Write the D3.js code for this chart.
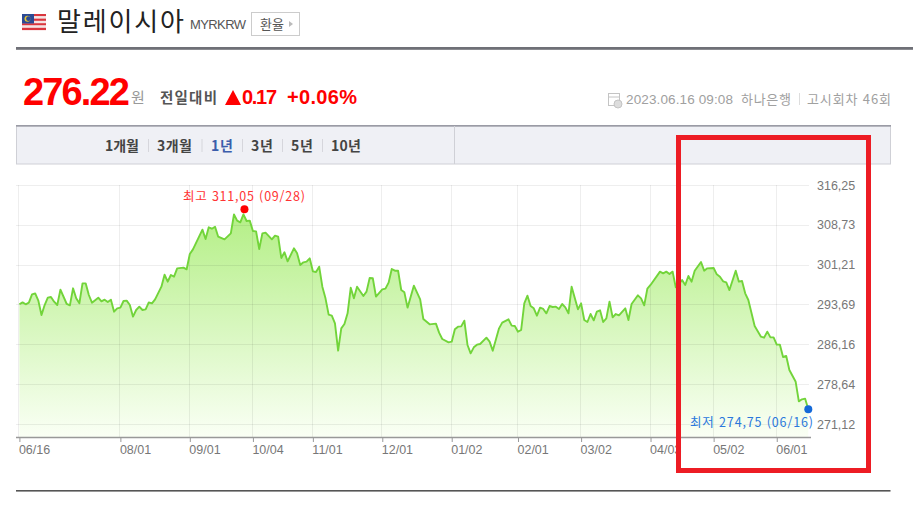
<!DOCTYPE html>
<html lang="ko"><head><meta charset="utf-8">
<script src="https://cdn.jsdelivr.net/npm/d3@7/dist/d3.min.js"></script>
<style>
html,body{margin:0;padding:0;background:#fff;overflow:hidden}
svg{display:block}
text{font-family:"Liberation Sans","Noto Sans CJK KR",sans-serif}
.kr{font-family:"Noto Sans CJK KR",sans-serif}
</style></head><body><svg id="c" width="913" height="527"></svg>
<script>
const sessions=[0,1,2,3,4,5,6,7,8,9,10,11,12,13,15,16,17,18,19,20,21,22,23,25,26,27,28,29,30,31,32,33,34,35,36,37,38,39,40,41,42,43,45,46,47,48,49,50,52,53,54,55,58,59,60,61,62,63,65,67,68,69,70,71,72,73,74,75,76,77,78,80,81,82,83,84,85,87,88,89,90,91,92,93,94,95,96,97,98,99,100,101,102,103,104,105,106,107,109,110,111,112,113,115,116,117,118,119,120,121,122,123,125,127,128,130,132,133,134,136,137,138,139,140,141,142,143,144,145,146,148,149,150,152,153,155,156,157,158,159,160,161,162,163,164,165,166,167,168,169,170,171,172,173,174,175,177,178,179,180,181,182,183,184,185,186,187,188,189,190,192,193,194,196,197,198,199,200,203,204,205,206,207,208,210,211,212,213,214,216,217,218,220,221,222,223,224,225,227,228,229,230,231,233,235,236,237,238,239,240,241,242,243,244,246,247,248,249,250];
const rates=[293.72,294.09,293.72,294.03,295.60,295.79,294.41,291.70,293.59,294.98,295.10,294.22,293.59,296.49,293.78,293.53,296.74,294.85,293.90,297.68,297.68,295.48,294.03,294.98,294.28,294.60,294.16,294.60,292.33,292.96,293.09,294.35,294.41,293.59,291.39,292.65,293.28,292.65,292.77,294.09,293.90,294.66,297.05,299.30,298.00,299.26,298.94,300.51,300.64,300.33,303.22,304.10,307.82,306.05,308.26,308.00,308.38,306.49,305.99,307.12,310.71,309.51,309.20,310.71,309.45,309.52,307.56,307.50,304.16,307.12,307.25,305.99,306.68,306.50,302.47,303.54,301.84,304.29,303.35,301.14,301.65,301.77,302.40,299.95,299.82,300.83,297.05,294.85,291.77,291.58,290.13,284.97,289.18,290.00,292.02,296.86,294.85,297.05,295.29,296.11,298.69,298.63,295.17,296.55,296.68,297.81,300.39,300.07,300.07,296.42,295.98,293.09,297.24,294.66,290.95,289.94,290.07,288.37,287.17,286.54,286.67,289.00,289.50,289.56,290.63,286.04,284.46,285.60,286.10,286.23,287.42,286.67,284.97,289.18,290.26,290.89,289.69,289.63,288.55,288.87,293.90,295.35,293.40,292.96,291.58,293.09,292.84,292.02,293.40,293.21,293.28,292.84,293.78,293.15,292.02,297.05,292.77,293.90,290.76,290.38,291.89,290.70,292.33,292.58,290.38,291.07,294.22,291.26,291.89,291.64,292.96,290.76,293.78,295.42,294.85,293.53,296.68,297.37,299.89,299.57,299.89,299.45,299.89,296.93,298.31,297.37,299.07,298.00,300.07,301.71,300.07,300.51,300.58,299.38,298.94,298.06,297.87,296.42,300.07,298.00,298.12,295.79,294.53,289.63,287.61,287.42,288.56,287.48,287.48,286.10,286.10,283.77,283.96,281.32,279.09,275.40,275.78,275.90,273.89];
const tickSessions=[0,32,54,74,93,115,137,158,178,200,220,240];
const tickLabels=["06/16","08/01","09/01","10/04","11/01","12/01","01/02","02/01","03/02","04/03","05/02","06/01"];
const rateTicks=[316.25,308.73,301.21,293.69,286.16,278.64,271.12];
const highPoint={session:71,rate:311.66};
const lowPoint={session:250,rate:273.89};
const highLabel="최고 311,05 (09/28)";
const lowLabel="최저 274,75 (06/16)";
const tabs=["1개월","3개월","1년","3년","5년","10년"];

const svg=d3.select("#c");
const x=d3.scaleLinear().domain([0,250]).range([19.4,808.3]);
const y=d3.scaleLinear().domain([271.12,316.25]).range([424,185]);
const bottom=437;
const points=sessions.map((s,i)=>({s,r:rates[i]}));

// header
const g0=svg.append("g");
const flag=g0.append("g").attr("transform","translate(22,14)");
d3.range(7).forEach(i=>flag.append("rect").attr("x",0).attr("y",i*2.3).attr("width",24).attr("height",2.3).attr("fill",i%2?"#f3e4e4":"#d9363e"));
flag.append("rect").attr("width",12).attr("height",9.5).attr("fill","#2b4a94");
flag.append("circle").attr("cx",5.5).attr("cy",4.7).attr("r",3).attr("fill","#e8c832");
flag.append("circle").attr("cx",6.5).attr("cy",4.7).attr("r",2.4).attr("fill","#2b4a94");
g0.append("text").attr("class","kr").attr("x",57).attr("y",31).attr("font-size",26).attr("fill","#222").attr("textLength",127).text("말레이시아");
g0.append("text").attr("x",190).attr("y",29).attr("font-size",13).attr("fill","#555").attr("textLength",56).text("MYRKRW");
g0.append("rect").attr("x",251.5).attr("y",12.5).attr("width",48).attr("height",23).attr("fill","#fff").attr("stroke","#ccc");
g0.append("text").attr("class","kr").attr("x",260).attr("y",29).attr("font-size",13).attr("fill","#555").text("환율");
g0.append("path").attr("d","M289 21l4 3-4 3z").attr("fill","#bbb");
g0.append("rect").attr("x",16).attr("y",47).attr("width",897).attr("height",2.8).attr("fill","#6f7077");

// price
g0.append("text").attr("x",23).attr("y",105).attr("font-size",38).attr("font-weight",700).attr("fill","#f00").attr("textLength",107).text("276.22");
g0.append("text").attr("class","kr").attr("x",131).attr("y",103).attr("font-size",15).attr("fill","#999").text("원");
g0.append("text").attr("class","kr").attr("x",160).attr("y",103).attr("font-size",14.5).attr("font-weight",700).attr("fill","#555").attr("textLength",57).text("전일대비");
g0.append("path").attr("d","M225 105l8-15 8 15z").attr("fill","#f00");
g0.append("text").attr("x",242).attr("y",104).attr("font-size",20).attr("font-weight",700).attr("fill","#f00").attr("textLength",35).text("0.17");
g0.append("text").attr("x",287).attr("y",104).attr("font-size",20).attr("font-weight",700).attr("fill","#f00").attr("textLength",70).text("+0.06%");
const ic=g0.append("g").attr("fill","none").attr("stroke","#c4c4c4");
ic.append("rect").attr("x",608.5).attr("y",93.5).attr("width",11).attr("height",12);
ic.append("path").attr("d","M608 97h12");
ic.append("circle").attr("cx",618).attr("cy",104).attr("r",4).attr("fill","#ddd");
g0.append("text").attr("x",626).attr("y",104).attr("font-size",13.5).attr("fill","#a0a0a0").attr("textLength",107).text("2023.06.16 09:08");
g0.append("text").attr("class","kr").attr("x",741).attr("y",104).attr("font-size",13).attr("fill","#a0a0a0").attr("textLength",50).text("하나은행");
g0.append("rect").attr("x",799).attr("y",93).attr("width",1).attr("height",12).attr("fill","#ddd");
g0.append("text").attr("class","kr").attr("x",807).attr("y",104).attr("font-size",13).attr("fill","#a0a0a0").attr("textLength",84).text("고시회차 46회");

// tab bar
g0.append("rect").attr("x",16.5).attr("y",126).attr("width",874).attr("height",38).attr("fill","#eff0f5").attr("stroke","#cfd0d6");
g0.append("rect").attr("x",16).attr("y",125).attr("width",875).attr("height",1.6).attr("fill","#9a9ba5");
g0.append("rect").attr("x",454).attr("y",126).attr("width",1).attr("height",38).attr("fill","#cfd0d6");
const tabX=[105,157,211,251,291,331], tabW=[34,35,22,22,22,30];
tabs.forEach((t,i)=>{
  g0.append("text").attr("class","kr").attr("x",tabX[i]).attr("y",151).attr("font-size",14).attr("font-weight",700)
    .attr("fill",i===2?"#3b5dab":"#444").attr("textLength",tabW[i]).text(t);
  if(i<5) g0.append("rect").attr("x",tabX[i]+tabW[i]+(tabX[i+1]-tabX[i]-tabW[i])/2).attr("y",139).attr("width",1).attr("height",13).attr("fill","#d6d6dc");
});

// chart
const defs=svg.append("defs");
const grad=defs.append("linearGradient").attr("id","fill").attr("gradientUnits","userSpaceOnUse")
  .attr("x1",0).attr("x2",0).attr("y1",214).attr("y2",bottom);
grad.append("stop").attr("offset",0).attr("stop-color","#b4ef86");
grad.append("stop").attr("offset",1).attr("stop-color","#fafff5");

const area=d3.area().x(d=>x(d.s)).y0(bottom).y1(d=>y(d.r));
const line=d3.line().x(d=>x(d.s)).y(d=>y(d.r));
svg.append("path").datum(points).attr("d",area).attr("fill","url(#fill)");

const grid=svg.append("g").attr("stroke","#000").attr("stroke-opacity",0.065).attr("shape-rendering","crispEdges");
grid.selectAll("line.h").data(rateTicks).join("line").attr("class","h")
  .attr("x1",16).attr("x2",809).attr("y1",d=>Math.round(y(d))+.5).attr("y2",d=>Math.round(y(d))+.5);
grid.selectAll("line.v").data(tickSessions).join("line").attr("class","v")
  .attr("y1",185).attr("y2",bottom).attr("x1",d=>Math.round(x(d))-.5).attr("x2",d=>Math.round(x(d))-.5);

svg.append("path").datum(points).attr("d",line).attr("fill","none").attr("stroke","#72d43a").attr("stroke-width",1.9).attr("stroke-linejoin","round");

const xAxis=svg.append("g").attr("transform",`translate(0,${bottom})`)
  .call(d3.axisBottom(x).tickValues(tickSessions).tickFormat((d,i)=>tickLabels[i]).tickSize(5).tickSizeOuter(0));
xAxis.select(".domain").attr("d","M16,0.5H811").attr("stroke","#999").attr("stroke-width",1.5);
xAxis.selectAll(".tick line").attr("stroke","#999");
xAxis.selectAll(".tick text").attr("text-anchor","start").attr("x",-1).attr("y",8).attr("font-size",12.5).attr("fill","#777").attr("font-family","Liberation Sans");

const yAxis=svg.append("g").attr("transform","translate(809,0)")
  .call(d3.axisRight(y).tickValues(rateTicks).tickFormat(d=>d3.format(".2f")(d).replace(".",",")).tickSize(0));
yAxis.select(".domain").remove();
yAxis.selectAll(".tick text").attr("x",8).attr("font-size",12.5).attr("fill","#777").attr("font-family","Liberation Sans");

svg.append("circle").attr("cx",x(highPoint.session)+1).attr("cy",y(highPoint.rate)).attr("r",4).attr("fill","#f00");
svg.append("circle").attr("cx",x(lowPoint.session)).attr("cy",y(lowPoint.rate)).attr("r",4).attr("fill","#1469d8");
svg.append("text").attr("class","kr").attr("x",183).attr("y",201).attr("font-size",12.5).attr("fill","#f33").attr("textLength",122).text(highLabel);
svg.append("text").attr("class","kr").attr("x",690).attr("y",427).attr("font-size",12.5).attr("fill","#2a78dc").attr("textLength",123).text(lowLabel);

svg.append("rect").attr("x",16).attr("y",490).attr("width",874.5).attr("height",1.6).attr("fill","#555");

svg.append("rect").attr("x",678.5).attr("y",137.5).attr("width",190).attr("height",333).attr("fill","none").attr("stroke","#ed1c24").attr("stroke-width",5);
</script></body></html>
